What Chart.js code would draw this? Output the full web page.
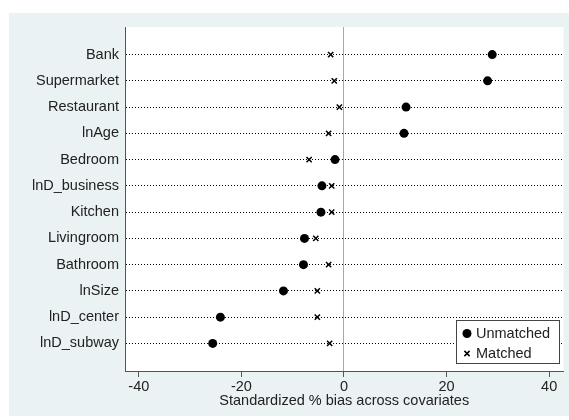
<!DOCTYPE html>
<html>
<head>
<meta charset="utf-8">
<script src="https://cdn.jsdelivr.net/npm/chart.js@4.4.1/dist/chart.umd.min.js"></script>
<style>
  html, body { margin: 0; padding: 0; background: #fff; }
  #wrap { width: 569px; height: 420px; }
</style>
</head>
<body>
<div id="wrap"><canvas id="bias"></canvas></div>
<script>
'use strict';

// covariates, top to bottom
const covariates = [
    'Bank', 'Supermarket', 'Restaurant', 'lnAge', 'Bedroom', 'lnD_business',
    'Kitchen', 'Livingroom', 'Bathroom', 'lnSize', 'lnD_center', 'lnD_subway'
];
// standardized % bias
const unmatched = [28.9, 28.0, 12.1, 11.7, -1.75, -4.3, -4.5, -7.7, -7.9, -11.8, -24.1, -25.6];
const matched = [-2.6, -1.9, -0.9, -3.0, -6.8, -2.4, -2.4, -5.5, -3.0, -5.2, -5.2, -2.8];
const xTicks = [-40, -20, 0, 20, 40];
const seriesNames = ['Unmatched', 'Matched'];

const FONT = 'Liberation Sans, Arial, Helvetica, sans-serif';
const FONT_SIZE = 14.5;
const BG = '#EAF2F3';

const toPoints = vals => vals.map((v, i) => ({ x: v, y: i + 1 }));

// ─── background: bluish graph region + white plot region ─────
const backdrop = {
    id: 'backdrop',
    beforeDraw(chart) {
        const { ctx, chartArea: a } = chart;
        ctx.save();
        ctx.fillStyle = '#fff';
        ctx.fillRect(0, 0, chart.width, chart.height);
        ctx.fillStyle = BG;
        ctx.fillRect(9, 13, chart.width - 9, 403);
        ctx.fillStyle = '#fff';
        ctx.fillRect(a.left, a.top, a.right - a.left, a.bottom - a.top);
        ctx.restore();
    }
};

// ─── legend box inside the plot, bottom right ─────────────────
const boxLegend = {
    id: 'boxLegend',
    afterDraw(chart) {
        const { ctx } = chart;
        const x = 456, y = 320, w = 103, h = 43;
        ctx.save();
        ctx.fillStyle = '#fff';
        ctx.fillRect(x, y, w, h);
        ctx.strokeStyle = '#444';
        ctx.lineWidth = 1;
        ctx.strokeRect(x + 0.5, y + 0.5, w, h);

        chart.data.datasets.forEach((ds, i) => {
            const cy = y + 13.5 + i * 20;
            const cx = x + 11;
            ctx.fillStyle = '#000';
            ctx.strokeStyle = '#000';
            if (ds.pointStyle === 'circle') {
                ctx.beginPath();
                ctx.arc(cx, cy, 4.5, 0, Math.PI * 2);
                ctx.fill();
            } else {
                const r = 2.6;
                ctx.lineWidth = 1.5;
                ctx.beginPath();
                ctx.moveTo(cx - r, cy - r); ctx.lineTo(cx + r, cy + r);
                ctx.moveTo(cx - r, cy + r); ctx.lineTo(cx + r, cy - r);
                ctx.stroke();
            }
            ctx.font = `${FONT_SIZE}px ${FONT}`;
            ctx.textBaseline = 'middle';
            ctx.fillStyle = '#222';
            ctx.fillText(ds.label, x + 20, cy + 0.5);
        });
        ctx.restore();
    }
};

const chartData = {
    datasets: [
        {
            label: seriesNames[0],
            data: toPoints(unmatched),
            pointStyle: 'circle',
            pointRadius: 4.5,
            backgroundColor: '#000',
            borderColor: '#000',
            borderWidth: 0
        },
        {
            label: seriesNames[1],
            data: toPoints(matched),
            pointStyle: 'crossRot',
            pointRadius: 3.7,
            backgroundColor: '#000',
            borderColor: '#000',
            borderWidth: 1.5
        }
    ]
};

const options = {
    responsive: true,
    maintainAspectRatio: false,
    animation: false,
    layout: { padding: { left: 0, right: 5, top: 27, bottom: 0 } },
    plugins: {
        legend: { display: false },
        tooltip: { enabled: false }
    },
    scales: {
        x: {
            type: 'linear',
            min: -42.7,
            max: 42.8,
            afterBuildTicks: s => { s.ticks = xTicks.map(v => ({ value: v })); },
            afterFit: s => { s.height = 49; },
            grid: {
                color: c => (c.tick && c.tick.value === 0 ? '#a8a8a8' : 'rgba(0,0,0,0)'),
                tickColor: '#555',
                tickLength: 6,
                lineWidth: 1
            },
            border: { display: true, color: '#555', width: 1 },
            ticks: {
                padding: 1,
                font: { family: FONT, size: FONT_SIZE },
                color: '#222',
                maxRotation: 0
            },
            title: {
                display: true,
                text: 'Standardized % bias across covariates',
                font: { family: FONT, size: FONT_SIZE },
                color: '#222',
                padding: { top: 0, bottom: 10 }
            }
        },
        y: {
            type: 'linear',
            reverse: true,
            min: -0.05,
            max: 13.05,
            afterBuildTicks: s => { s.ticks = covariates.map((_, i) => ({ value: i + 1 })); },
            afterFit: s => { s.width = 125; },
            grid: {
                color: '#000',
                lineWidth: 1,
                drawTicks: false
            },
            border: { display: true, color: '#555', width: 1, dash: [1, 2] },
            ticks: {
                padding: 6,
                font: { family: FONT, size: FONT_SIZE },
                color: '#222',
                callback: v => covariates[v - 1]
            }
        }
    }
};

new Chart(document.getElementById('bias'), {
    type: 'scatter',
    data: chartData,
    options,
    plugins: [backdrop, boxLegend]
});
</script>
</body>
</html>
